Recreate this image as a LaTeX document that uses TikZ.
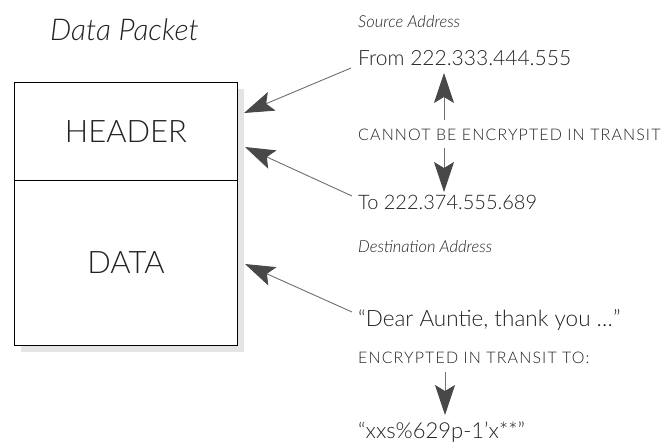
\documentclass[tikz,border=0pt]{standalone}
\usepackage{fontspec}
\setmainfont{Lato}[UprightFont=* Light, ItalicFont=* Light Italic]
\usetikzlibrary{arrows.meta,calc}
\definecolor{txt}{HTML}{222222}
\definecolor{arr}{HTML}{6E6E6E}
\definecolor{ahead}{HTML}{484848}
\definecolor{shad}{HTML}{E4E4E4}
\tikzset{
  lbl/.style={anchor=west, inner sep=0pt, text=txt},
  big/.style={lbl, font=\fontsize{21}{26}\selectfont},
  small/.style={lbl, font=\fontsize{16.5}{20}\selectfont\itshape},
  caps/.style={lbl, font=\fontsize{16}{19}\selectfont\addfontfeatures{LetterSpace=7}},
  tiphead/.tip={Stealth[length=30pt,width=20pt,inset=6pt,color=ahead,fill=ahead]},
  ptr/.style={draw=arr, line width=0.9pt, -tiphead},
  cell/.style={draw=black, line width=0.9pt, fill=white, inner sep=0pt, text=txt, font=\fontsize{31}{35}\selectfont}
}
\begin{document}
\begin{tikzpicture}[x=1pt,y=-1pt]
\useasboundingbox (0,0) rectangle (669,445);
% shadow
\fill[shad] (21,89) rectangle (244,352);
% box
\node[cell, minimum width=223pt, minimum height=98pt, anchor=north west] (header) at (14,82) {HEADER};
\node[cell, minimum width=223pt, minimum height=165pt, anchor=north west] (data) at (14,180) {DATA};
\node[lbl, font=\fontsize{30}{34}\selectfont\itshape] (title) at (50,30) {Data Packet};
% right texts
\node[small] (src) at (358,22) {Source Address};
\node[big] (from) at (358,58) {From 222.333.444.555};
\node[caps] (cannot) at (358,135) {CANNOT BE ENCRYPTED IN TRANSIT};
\node[big, font=\fontsize{20}{24}\selectfont] (to) at (358,202) {To 222.374.555.689};
\node[small] (dst) at (358,247) {Destination Address};
\node[big, font=\fontsize{22.5}{26}\selectfont] (dear) at (358,320) {“Dear Auntie, thank you …”};
\node[caps] (enc) at (358,358) {ENCRYPTED IN TRANSIT TO:};
\node[big, font=\fontsize{22}{26}\selectfont] (xxs) at (358,432) {“xxs\%629p-1’x**”};
% connector end points
\coordinate (s1) at (351,68);
\coordinate (t1) at (244,113);
\coordinate (s2) at (352,196);
\coordinate (t2) at (245,147);
\coordinate (s3) at (352,312);
\coordinate (t3) at (245,264);
\coordinate (u0) at (444,120);
\coordinate (u1) at (444,73);
\coordinate (d0) at (444,148);
\coordinate (d1) at (444,192);
\coordinate (b0) at (445,372);
\coordinate (b1) at (445,415);
\draw[ptr] (s1) -- (t1);
\draw[ptr] (s2) -- (t2);
\draw[ptr] (s3) -- (t3);
\draw[ptr] (u0) -- (u1);
\draw[ptr] (d0) -- (d1);
\draw[ptr] (b0) -- (b1);
\end{tikzpicture}
\end{document}
